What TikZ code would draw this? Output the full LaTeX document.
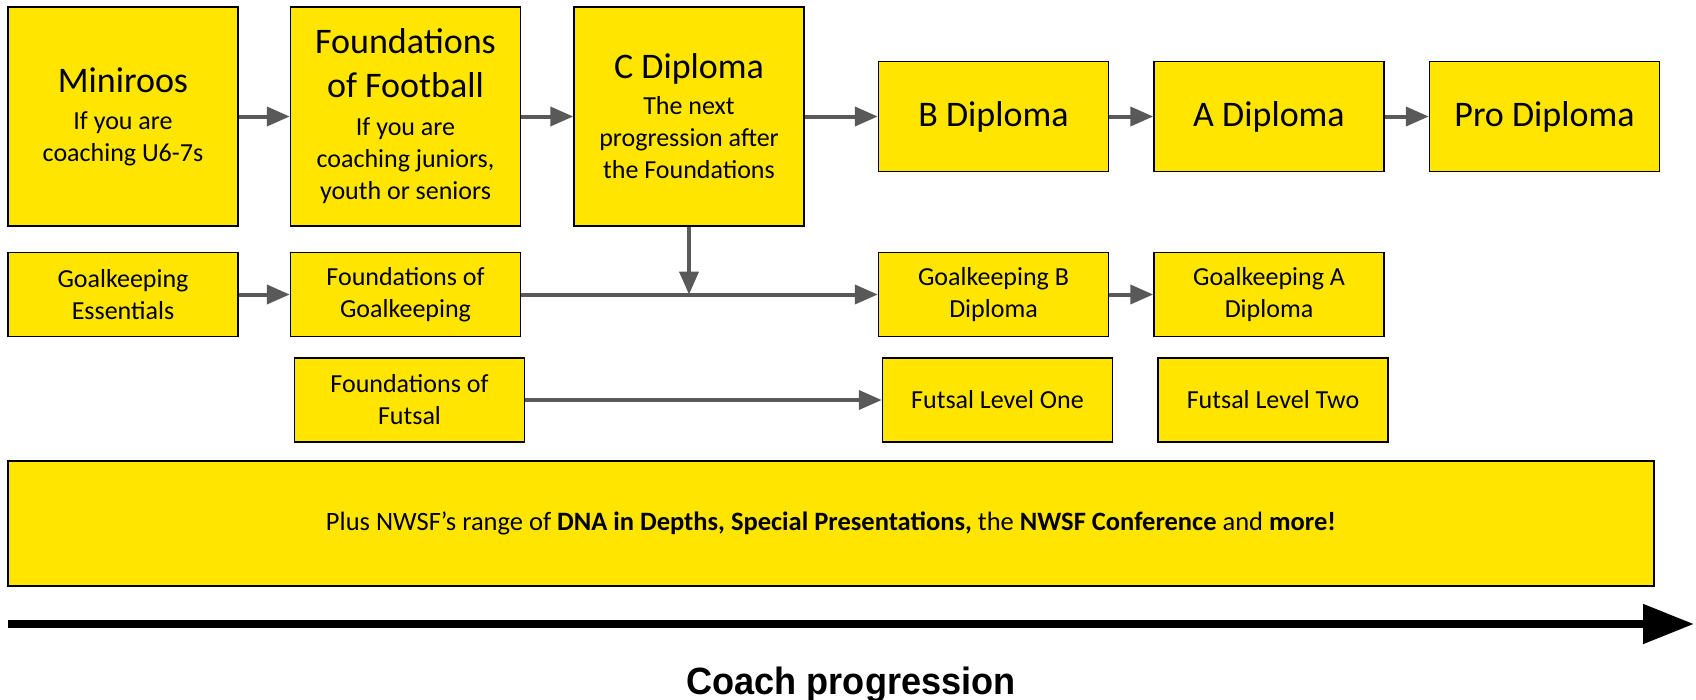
\documentclass[tikz,border=0pt]{standalone}
\usepackage{fontspec}
\setmainfont{Carlito}
\newfontfamily\coachfont{Liberation Sans}
\usetikzlibrary{arrows.meta,positioning}

\definecolor{nwsfyellow}{RGB}{255,229,0}
\definecolor{flowgray}{RGB}{89,89,89}

\newcommand{\bigline}[1]{{\fontsize{36}{42}\selectfont #1}}

\begin{document}
\begin{tikzpicture}[
    x=1pt, y=-1pt,
    font=\fontsize{26}{32}\selectfont,
    box/.style={draw=black, line width=1.5pt, fill=nwsfyellow, align=center,
                minimum width=230pt, inner sep=2pt},
    tallbox/.style={box, minimum height=219pt},
    shortbox/.style={box, minimum height=110pt},
    rowbox/.style={box, minimum height=84pt},
    flow/.style={-{Triangle[length=23pt, width=19pt]}, line width=4pt, draw=flowgray},
    progress/.style={-{Triangle[length=51pt, width=38pt]}, line width=8pt, draw=black},
]
\useasboundingbox (0,0) rectangle (1696,699);

% =====================  TOP ROW  =====================
\node[tallbox]                    (mini) at (123,116.5) {\bigline{Miniroos}\\[5pt]If you are\\coaching U6-7s};
\node[tallbox,  right=51pt of mini] (fof)  {\bigline{Foundations}\\[12pt]\bigline{of Football}\\[6pt]If you are\\coaching juniors,\\youth or seniors};
\node[tallbox,  right=52pt of fof]  (cdip) {\bigline{C Diploma}\\[4pt]The next\\progression after\\the Foundations};
\node[shortbox, right=73pt of cdip] (bdip) {\bigline{B Diploma}};
\node[shortbox, right=44pt of bdip] (adip) {\bigline{A Diploma}};
\node[shortbox, right=44pt of adip] (pdip) {\bigline{Pro Diploma}};

\draw[flow] (mini) -- (fof);
\draw[flow] (fof)  -- (cdip);
\draw[flow] (cdip) -- (bdip);
\draw[flow] (bdip) -- (adip);
\draw[flow] (adip) -- (pdip);

% =====================  GOALKEEPING  =====================
\node[rowbox, below=25pt of mini] (gkess) {Goalkeeping\\Essentials};
\node[rowbox, below=25pt of fof]  (fgk)   {Foundations of\\Goalkeeping};
\node[rowbox] (gkb) at (bdip |- fgk) {Goalkeeping B\\Diploma};
\node[rowbox] (gka) at (adip |- fgk) {Goalkeeping A\\Diploma};

\draw[flow] (gkess) -- (fgk);
\draw[flow] (fgk)   -- (gkb);
\draw[flow] (gkb)   -- (gka);

% C Diploma also leads into the goalkeeping line
\draw[flow] (cdip.south) -- (cdip.south |- fgk.east);

% =====================  FUTSAL  =====================
\node[rowbox, below=20pt of fgk, xshift=4pt] (ffut) {Foundations of\\Futsal};
\node[rowbox, below=20pt of gkb, xshift=4pt] (fut1) {Futsal Level One};
\node[rowbox, below=20pt of gka, xshift=4pt] (fut2) {Futsal Level Two};

\draw[flow] (ffut) -- (fut1);

% =====================  EXTRAS + AXIS  =====================
\node[box, minimum width=1646pt, minimum height=125pt, font=\fontsize{26.5}{32}\selectfont] (plus) at (831,523.5)
  {Plus NWSF’s range of \textbf{DNA in Depths, Special Presentations,} the \textbf{NWSF Conference} and \textbf{more!}};

\coordinate (axstart) at (8,624);
\coordinate (axend)   at (1694,624);
\draw[progress] (axstart) -- (axend);

\node[anchor=base, inner sep=0pt, font=\coachfont\bfseries\fontsize{38}{44}\selectfont] (coach) at (851,694)
  {\scalebox{0.95}[1]{Coach progression}};

\end{tikzpicture}
\end{document}
